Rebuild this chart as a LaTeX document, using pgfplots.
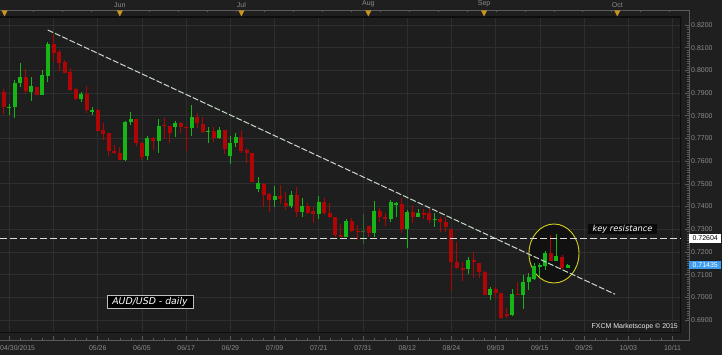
\documentclass[border=0pt]{standalone}
\usepackage{pgfplots}
\pgfplotsset{compat=1.18}
\usepackage{pgfplotstable}
\usepackage{fontspec}
\setmainfont{Liberation Sans}
\newfontfamily\dejavu{DejaVu Sans}

\definecolor{bgc}{HTML}{1F1F1F}
\definecolor{plotbg}{HTML}{1E1E1E}
\definecolor{gridc}{HTML}{2E2E2E}
\definecolor{framec}{HTML}{5A5A5A}
\definecolor{innerc}{HTML}{0E0E0E}
\definecolor{labc}{HTML}{8C8C8C}
\definecolor{cgreen}{HTML}{16B616}
\definecolor{cred}{HTML}{B00505}
\definecolor{cdkgreen}{HTML}{2C6B2C}
\definecolor{trendc}{HTML}{C8D8C8}
\definecolor{hlinec}{HTML}{DCDCDC}
\definecolor{ellc}{HTML}{D4D022}
\definecolor{ellfill}{HTML}{111111}
\definecolor{triC}{HTML}{C8961E}
\definecolor{blueC}{HTML}{3D9BF0}
\definecolor{boxc}{HTML}{0A0A0A}

% i open high low close
\pgfplotstableread{
i o h l c
0 0.7837 0.7852 0.7804 0.7838
1 0.7837 0.7958 0.7789 0.7943
2 0.7943 0.8031 0.7926 0.7970
4 0.7906 0.7970 0.7867 0.7931
6 0.7892 0.8002 0.7892 0.7980
7 0.7977 0.8126 0.7950 0.8116
13 0.7874 0.7906 0.7862 0.7895
15 0.7822 0.7837 0.7804 0.7823
21 0.7605 0.7776 0.7603 0.7774
22 0.7774 0.7818 0.7760 0.7786
25 0.7624 0.7711 0.7605 0.7701
27 0.7690 0.7786 0.7637 0.7756
30 0.7752 0.7777 0.7708 0.7767
33 0.7745 0.7848 0.7712 0.7796
36 0.7732 0.7749 0.7682 0.7734
38 0.7701 0.7749 0.7697 0.7737
40 0.7623 0.7711 0.7588 0.7682
41 0.7679 0.7726 0.7664 0.7705
45 0.7478 0.7529 0.7466 0.7503
48 0.7429 0.7491 0.7397 0.7447
51 0.7403 0.7470 0.7393 0.7451
53 0.7378 0.7437 0.7353 0.7403
56 0.7367 0.7447 0.7344 0.7422
61 0.7267 0.7344 0.7265 0.7337
66 0.7285 0.7426 0.7267 0.7381
69 0.7344 0.7429 0.7334 0.7419
70 0.7411 0.7419 0.7356 0.7413
72 0.7300 0.7385 0.7216 0.7375
74 0.7356 0.7389 0.7354 0.7373
77 0.7344 0.7371 0.7312 0.7346
83 0.7124 0.7179 0.7103 0.7165
87 0.7011 0.7047 0.6989 0.7037
91 0.6922 0.7036 0.6920 0.7015
93 0.7011 0.7099 0.6948 0.7069
94 0.7069 0.7106 0.7033 0.7089
95 0.7080 0.7150 0.7077 0.7138
96 0.7138 0.7150 0.7089 0.7140
97 0.7138 0.7206 0.7121 0.7197
99 0.7162 0.7279 0.7160 0.7182
101 0.7130 0.7148 0.7128 0.71435
}\greentab

\pgfplotstableread{
i o h l c
-1 0.7906 0.7917 0.7808 0.7840
3 0.7970 0.8005 0.7899 0.7909
5 0.7926 0.7928 0.7892 0.7892
8 0.8116 0.8160 0.8038 0.8078
9 0.8082 0.8090 0.7999 0.8034
10 0.8038 0.8046 0.7987 0.7987
11 0.7992 0.8009 0.7911 0.7914
12 0.7917 0.7921 0.7870 0.7874
14 0.7895 0.7931 0.7811 0.7826
16 0.7826 0.7828 0.7732 0.7734
17 0.7737 0.7767 0.7693 0.7720
18 0.7723 0.7725 0.7623 0.7646
19 0.7646 0.7671 0.7632 0.7637
20 0.7637 0.7664 0.7605 0.7605
23 0.7786 0.7788 0.7667 0.7682
24 0.7682 0.7686 0.7605 0.7617
26 0.7701 0.7708 0.7649 0.7690
28 0.7759 0.7792 0.7697 0.7757
29 0.7755 0.7757 0.7679 0.7723
31 0.7767 0.7774 0.7726 0.7749
32 0.7750 0.7755 0.7646 0.7748
34 0.7796 0.7814 0.7745 0.7770
35 0.7764 0.7796 0.7723 0.7730
37 0.7733 0.7752 0.7686 0.7701
39 0.7737 0.7739 0.7630 0.7652
42 0.7705 0.7737 0.7635 0.7646
43 0.7649 0.7657 0.7591 0.7635
44 0.7635 0.7637 0.7508 0.7510
46 0.7500 0.7502 0.7400 0.7451
47 0.7454 0.7459 0.7378 0.7429
49 0.7447 0.7495 0.7412 0.7432
50 0.7415 0.7466 0.7385 0.7403
52 0.7451 0.7488 0.7353 0.7378
54 0.7403 0.7416 0.7367 0.7371
55 0.7381 0.7397 0.7329 0.7367
57 0.7422 0.7437 0.7363 0.7371
58 0.7373 0.7415 0.7351 0.7353
59 0.7353 0.7355 0.7265 0.7275
60 0.7272 0.7323 0.7265 0.7270
62 0.7337 0.7349 0.7289 0.7294
63 0.7293 0.7319 0.7253 0.7291
65 0.7315 0.7316 0.7265 0.7285
67 0.7381 0.7393 0.7334 0.7356
68 0.7356 0.7373 0.7315 0.7344
71 0.7412 0.7437 0.7285 0.7300
73 0.7375 0.7407 0.7328 0.7356
75 0.7373 0.7388 0.7344 0.7363
76 0.7371 0.7388 0.7326 0.7341
78 0.7344 0.7356 0.7289 0.7334
79 0.7334 0.7356 0.7289 0.7309
80 0.7300 0.7302 0.7030 0.7157
81 0.7157 0.7245 0.7126 0.7128
82 0.7128 0.7157 0.7074 0.7121
84 0.7163 0.7201 0.7084 0.7161
85 0.7150 0.7153 0.7084 0.7113
86 0.7113 0.7115 0.7009 0.7011
88 0.7037 0.7047 0.6996 0.7018
89 0.7018 0.7020 0.6906 0.6908
90 0.6924 0.6952 0.6908 0.6922
92 0.7016 0.7069 0.7010 0.7014
98 0.7197 0.7275 0.7160 0.7162
100 0.7179 0.7187 0.7124 0.7128
}\redtab

\pgfplotstableread{
i o h l c
64 0.7291 0.7367 0.7235 0.7293
}\darktab

\pgfplotsset{
  wick/.style={draw=none, mark=none, forget plot,
    error bars/.cd, y dir=both, y explicit, error mark=none,
    error bar style={solid, line cap=butt, line width=1bp, draw=#1}},
  body/.style={draw=none, mark=none, forget plot,
    error bars/.cd, y dir=both, y explicit, error mark=none,
    error bar style={solid, line cap=butt, line width=4bp, draw=#1}},
}

\begin{document}
\begin{tikzpicture}
\fill[bgc] (0,0) rectangle (722bp,355bp);

% ---------- main plot area ----------
\begin{axis}[
  at={(0bp,22bp)}, anchor=south west, scale only axis,
  width=681bp, height=316bp,
  xmin=-1.683, xmax=121.53, ymin=0.68432, ymax=0.82352,
  axis background/.style={fill=plotbg},
  axis line style={draw=none},
  xtick={0,8,...,120},
  ytick={0.69,0.70,0.71,0.72,0.73,0.74,0.75,0.76,0.77,0.78,0.79,0.80,0.81,0.82},
  xticklabels={}, yticklabels={},
  major tick length=0pt,
  grid=major, grid style={draw=gridc, line width=0.8bp},
  clip=true,
]
\draw[innerc, line width=1.2bp] (rel axis cs:0,1) -- (rel axis cs:1,1) -- (rel axis cs:1,0) -- (rel axis cs:0,0);

\draw[ellc, line width=0.9bp, fill=ellfill] (axis cs:98.55,0.71934) ellipse [x radius=25bp, y radius=29.5bp];

\addplot[wick=cgreen] table[x=i, y expr={(\thisrow{h}+\thisrow{l})/2}, y error expr={(\thisrow{h}-\thisrow{l})/2}] {\greentab};
\addplot[body=cgreen] table[x=i, y expr={(\thisrow{o}+\thisrow{c})/2}, y error expr={max(abs(\thisrow{c}-\thisrow{o})/2,0.00022)}] {\greentab};
\addplot[wick=cred] table[x=i, y expr={(\thisrow{h}+\thisrow{l})/2}, y error expr={(\thisrow{h}-\thisrow{l})/2}] {\redtab};
\addplot[body=cred] table[x=i, y expr={(\thisrow{o}+\thisrow{c})/2}, y error expr={max(abs(\thisrow{c}-\thisrow{o})/2,0.00022)}] {\redtab};
\addplot[wick=cdkgreen] table[x=i, y expr={(\thisrow{h}+\thisrow{l})/2}, y error expr={(\thisrow{h}-\thisrow{l})/2}] {\darktab};
\addplot[body=cdkgreen] table[x=i, y expr={(\thisrow{o}+\thisrow{c})/2}, y error expr={max(abs(\thisrow{c}-\thisrow{o})/2,0.00022)}] {\darktab};

% trend line and key resistance
\addplot[draw=trendc, line width=1bp, dash pattern=on 6bp off 2bp, forget plot] coordinates {(6.95,0.8178) (109.6,0.70137)};
\addplot[draw=hlinec, line width=1bp, dash pattern=on 7bp off 3bp, forget plot] coordinates {(-1.683,0.72604) (121.53,0.72604)};

\node[fill=boxc, draw=none, text=white, font=\dejavu\itshape\fontsize{8.3}{9}\selectfont, inner sep=0pt, minimum width=69bp, minimum height=10bp] at (axis cs:110.95,0.73004) {key resistance};
\node[fill=black, draw=white!75!black, line width=0.5bp, text=white, font=\dejavu\itshape\fontsize{9.4}{10}\selectfont, inner sep=0pt, minimum width=86bp, minimum height=12.5bp] at (axis cs:25.46,0.69819) {AUD/USD - daily};
\node[anchor=east, text=white!92!black, font=\fontsize{7}{8}\selectfont, inner sep=0pt] at (axis cs:120.99,0.68696) {FXCM Marketscope \textcopyright{} 2015};
\end{axis}

% ---------- frame with scales ----------
\begin{axis}[
  at={(0bp,15bp)}, anchor=south west, scale only axis,
  width=689bp, height=330bp,
  xmin=-1.683, xmax=122.98, ymin=0.68123, ymax=0.82661,
  axis line style={draw=none},
  xtick={0,8,...,120},
  xticklabels={{},{},05/26,06/05,06/17,06/29,07/09,07/21,07/31,08/12,08/24,09/03,09/15,09/25,10/03,10/11},
  ytick={0.69,0.70,0.71,0.72,0.73,0.74,0.75,0.76,0.77,0.78,0.79,0.80,0.81,0.82},
  xtick pos=left, xticklabel pos=left,
  ytick pos=right, yticklabel pos=right,
  tick align=inside,
  major tick length=4bp, minor tick length=2bp,
  minor x tick num=3, minor y tick num=9,
  tick style={draw=framec, line width=0.6bp},
  /pgf/number format/assume math mode=true,
  yticklabel style={/pgf/number format/.cd, fixed, fixed zerofill, precision=4, /tikz/.cd,
     font=\fontsize{7}{8}\selectfont, text=labc, inner sep=0pt, anchor=west, xshift=2bp},
  xticklabel style={font=\fontsize{7}{8}\selectfont, text=labc, inner sep=0pt, text height=5bp, text depth=1.5bp, anchor=north, yshift=-5.5bp},
  clip=false,
]
\draw[framec, line width=0.8bp] (rel axis cs:0,1) -- (rel axis cs:1,1) -- (rel axis cs:1,0) -- (rel axis cs:0,0);

\node[anchor=north west, font=\fontsize{7}{8}\selectfont, text=labc, inner sep=0pt, text height=5bp, text depth=1.5bp, yshift=-5.5bp] at (axis cs:-1.683,0.68123) {04/30/2015};

% weekly ticks on the top line
\pgfplotsinvokeforeach{0,...,23}{
  \draw[framec, line width=0.6bp] (axis cs:{-0.85+5.23*#1},0.82661) -- ([yshift=-2.5bp]axis cs:{-0.85+5.23*#1},0.82661);
}
% month markers
\pgfplotsinvokeforeach{-0.85,20,42,64.96,85.9,110}{
  \fill[triC] ([xshift=-3bp,yshift=-0.5bp]axis cs:#1,0.82661) -- ([xshift=3bp,yshift=-0.5bp]axis cs:#1,0.82661) -- ([yshift=-6.5bp]axis cs:#1,0.82661) -- cycle;
}
\node[anchor=south, font=\fontsize{7}{8}\selectfont, text=labc, inner sep=0pt, yshift=2.5bp] at (axis cs:20,0.82661) {Jun};
\node[anchor=south, font=\fontsize{7}{8}\selectfont, text=labc, inner sep=0pt, yshift=2.5bp] at (axis cs:42,0.82661) {Jul};
\node[anchor=south, font=\fontsize{7}{8}\selectfont, text=labc, inner sep=0pt, yshift=2.5bp] at (axis cs:64.96,0.82661) {Aug};
\node[anchor=south, font=\fontsize{7}{8}\selectfont, text=labc, inner sep=0pt, yshift=2.5bp] at (axis cs:85.9,0.82661) {Sep};
\node[anchor=south, font=\fontsize{7}{8}\selectfont, text=labc, inner sep=0pt, yshift=2.5bp] at (axis cs:110,0.82661) {Oct};

% price boxes
\node[anchor=west, fill=white, text=black, font=\fontsize{7}{8}\selectfont, inner sep=0pt, minimum width=32bp, minimum height=8.5bp] at (axis cs:122.98,0.72604) {0.72604};
\node[anchor=west, fill=blueC, text=white, font=\fontsize{7}{8}\selectfont, inner sep=0pt, minimum width=32bp, minimum height=8.5bp] at (axis cs:122.98,0.71435) {0.71435};
\end{axis}

\pgfresetboundingbox
\path (0,0) rectangle (722bp,355bp);
\end{tikzpicture}
\end{document}
